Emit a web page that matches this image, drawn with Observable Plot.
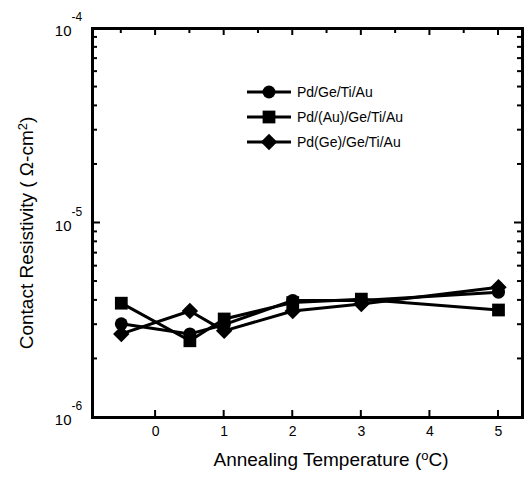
<!DOCTYPE html>
<html>
<head>
<meta charset="utf-8">
<script src="https://cdn.jsdelivr.net/npm/d3@7"></script>
<script src="https://cdn.jsdelivr.net/npm/@observablehq/plot@0.6"></script>
<style>
  html, body { margin: 0; padding: 0; background: #fff; }
  #chart { position: relative; width: 527px; height: 488px; }
  svg { font-family: "Liberation Sans", Arial, Helvetica, sans-serif; }
</style>
</head>
<body>
<div id="chart"></div>
<script>
// ---- data ----
const temps = [-0.5, 0.5, 1, 2, 3, 5];
const pdGeTiAu = [3.03e-6, 2.69e-6, 3.0e-6, 4.0e-6, 4.0e-6, 4.41e-6];
const pdAuGeTiAu = [3.87e-6, 2.48e-6, 3.21e-6, 3.9e-6, 4.06e-6, 3.57e-6];
const pdGeGeTiAu = [2.69e-6, 3.53e-6, 2.79e-6, 3.53e-6, 3.83e-6, 4.68e-6];
const seriesNames = ["Pd/Ge/Ti/Au", "Pd/(Au)/Ge/Ti/Au", "Pd(Ge)/Ge/Ti/Au"];
const seriesSymbols = ["circle", "square", "diamond2"];
const xTicks = [0, 1, 2, 3, 4, 5];
const xTopTicks = [-0.5, 0.5, 1.5, 2.5, 3.5, 4.5];
const yMajor = [1e-6, 1e-5, 1e-4];
const yExponents = ["-6", "-5", "-4"];
const yMinor = [2,3,4,5,6,7,8,9].flatMap(k => [k * 1e-6, k * 1e-5]);

const seriesValues = [pdGeTiAu, pdAuGeTiAu, pdGeGeTiAu];
const rows = seriesValues.flatMap((vals, s) =>
  vals.map((v, i) => ({series: seriesNames[s], x: temps[i], y: v})));

const W = 527, H = 488;
const M = {top: 28, right: 5, bottom: 71, left: 92};
const symR = {circle: 6.5, square: 7.2, diamond2: 7.4};

const chart = Plot.plot({
  width: W, height: H,
  marginTop: M.top, marginRight: M.right, marginBottom: M.bottom, marginLeft: M.left,
  style: {fontFamily: '"Liberation Sans", Arial, sans-serif', color: "#000", background: "#fff"},
  x: {domain: [-0.92, 5.35], axis: null},
  y: {type: "log", domain: [1e-6, 1e-4], axis: null},
  marks: [
    Plot.line(rows, {x: "x", y: "y", z: "series", stroke: "#000", strokeWidth: 3}),
    ...seriesNames.map((name, s) =>
      Plot.dot(rows.filter(d => d.series === name), {
        x: "x", y: "y", symbol: seriesSymbols[s], fill: "#000", stroke: "none", r: symR[seriesSymbols[s]]
      })),
    Plot.frame({stroke: "#000", strokeWidth: 3}),
    // x tick labels
    Plot.text(xTicks, {x: d => d, text: d => String(d), frameAnchor: "bottom", dy: 18, fontSize: 14, fill: "#000"}),
    // y tick labels 10^n
    Plot.text(yMajor, {y: d => d, text: () => "10", frameAnchor: "left", dx: -21, dy: 3, textAnchor: "end", fontSize: 15, fill: "#000"}),
    Plot.text(yMajor, {y: d => d, text: (d, i) => yExponents[i], frameAnchor: "left", dx: -21, dy: -11, textAnchor: "start", fontSize: 12, fill: "#000"})
  ]
});

const svg = d3.select(chart);
const sx = chart.scale("x"), sy = chart.scale("y");
const frameL = M.left, frameR = W - M.right, frameT = M.top, frameB = H - M.bottom;

// inward ticks drawn with Plot's own scales
const tg = svg.append("g").attr("stroke", "#000").attr("stroke-width", 2);
xTicks.forEach(v => {
  const x = sx.apply(v);
  tg.append("line").attr("x1", x).attr("x2", x).attr("y1", frameB).attr("y2", frameB - 7);
  tg.append("line").attr("x1", x).attr("x2", x).attr("y1", frameT).attr("y2", frameT + 7);
});
xTopTicks.forEach(v => {
  const x = sx.apply(v);
  tg.append("line").attr("x1", x).attr("x2", x).attr("y1", frameT).attr("y2", frameT + 5);
});
yMinor.forEach(v => {
  const y = sy.apply(v);
  tg.append("line").attr("x1", frameL).attr("x2", frameL + 5).attr("y1", y).attr("y2", y);
  tg.append("line").attr("x1", frameR).attr("x2", frameR - 5).attr("y1", y).attr("y2", y);
});
[1e-5].forEach(v => {
  const y = sy.apply(v);
  tg.append("line").attr("x1", frameL).attr("x2", frameL + 8).attr("y1", y).attr("y2", y);
  tg.append("line").attr("x1", frameR).attr("x2", frameR - 8).attr("y1", y).attr("y2", y);
});

// axis titles
const xt = svg.append("text")
  .attr("x", 331).attr("y", 466)
  .attr("text-anchor", "middle")
  .attr("font-size", 19).attr("fill", "#000");
xt.append("tspan").text("Annealing Temperature (");
xt.append("tspan").text("o").attr("font-size", 13).attr("dy", -6);
xt.append("tspan").text("C)").attr("dy", 6);

const yt = svg.append("text")
  .attr("transform", "translate(33,233) rotate(-90)")
  .attr("text-anchor", "middle")
  .attr("font-size", 19).attr("fill", "#000");
yt.append("tspan").text("Contact Resistivity ( \u03A9-cm");
yt.append("tspan").text("2").attr("font-size", 13).attr("dy", -6);
yt.append("tspan").text(")").attr("dy", 6);

// legend
const leg = svg.append("g").attr("transform", "translate(247,92)");
seriesNames.forEach((name, i) => {
  const g = leg.append("g").attr("transform", `translate(0,${i * 25})`);
  g.append("line").attr("x1", 0).attr("x2", 44).attr("y1", 0).attr("y2", 0)
    .attr("stroke", "#000").attr("stroke-width", 3);
  const sym = {circle: d3.symbolCircle, square: d3.symbolSquare, diamond2: d3.symbolDiamond2}[seriesSymbols[i]];
  const r = symR[seriesSymbols[i]];
  g.append("path").attr("transform", "translate(22,0)")
    .attr("d", d3.symbol(sym, r * r * Math.PI)()).attr("fill", "#000");
  g.append("text").attr("x", 50).attr("y", 5).attr("font-size", 14)
    .attr("text-anchor", "start").attr("fill", "#000").text(name);
});

document.getElementById("chart").appendChild(chart);
</script>
</body>
</html>
